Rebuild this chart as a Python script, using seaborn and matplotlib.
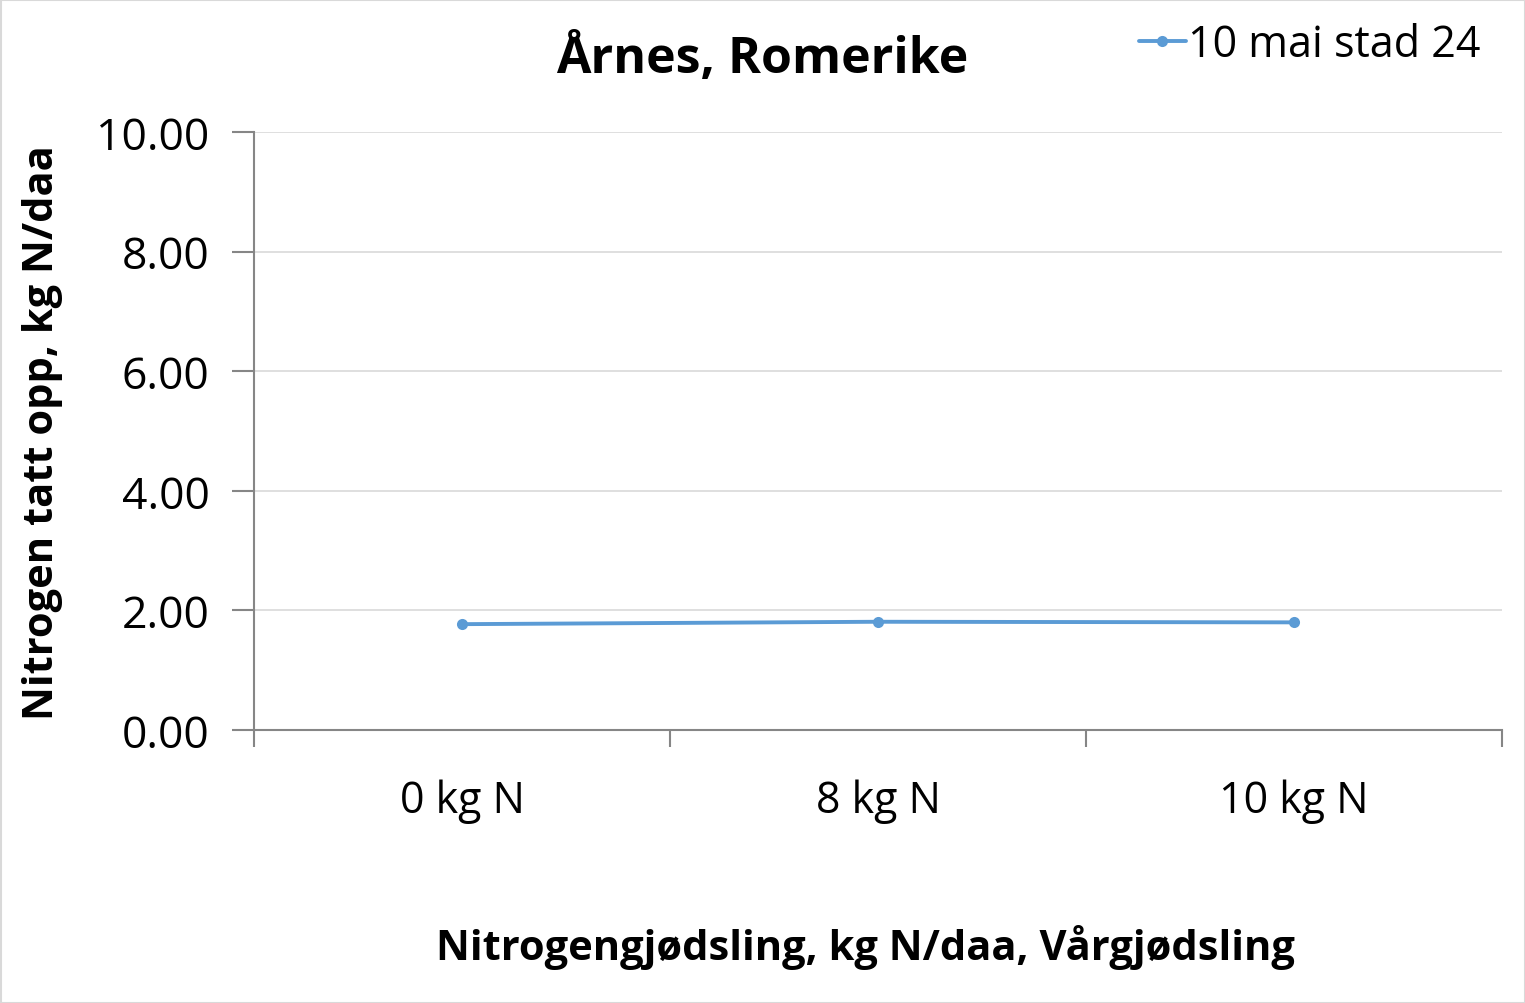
import matplotlib
matplotlib.use("Agg")
import matplotlib.pyplot as plt
import seaborn as sns
import pandas as pd
from matplotlib.patches import Rectangle

categories = ["0 kg N", "8 kg N", "10 kg N"]
values = [1.77, 1.81, 1.80]
series_name = "10 mai stad 24"
yticks = [0, 2, 4, 6, 8, 10]

sns.set_theme(style="white")
plt.rcParams['font.family'] = ['Open Sans', 'DejaVu Sans']
plt.rcParams['text.color'] = 'black'
plt.rcParams['xtick.color'] = 'black'
plt.rcParams['ytick.color'] = 'black'
plt.rcParams['axes.labelcolor'] = 'black'

fig = plt.figure(figsize=(15.25, 10.04), dpi=100)
ax = fig.add_axes([254/1525, 1-731/1004, (1502-254)/1525, (731-133)/1004])

df = pd.DataFrame({"x": range(len(categories)), "y": values, "s": series_name})
color = "#5B9BD5"
sns.lineplot(data=df, x="x", y="y", ax=ax, color=color, marker="o", markersize=8,
             linewidth=2.8, markeredgewidth=0, label=series_name)

ax.set_xlim(-0.5, len(categories) - 0.5)
ax.set_ylim(0, 10)
ax.set_yticks(yticks)
ax.set_yticklabels([f"{v:.2f}" for v in yticks], fontsize=32)
ax.set_xticks(range(len(categories)))
ax.set_xticklabels(categories, fontsize=31)
ax.set_xticks([i - 0.5 for i in range(len(categories) + 1)], minor=True)
ax.tick_params(axis="x", which="major", bottom=True, length=0, pad=35)
ax.tick_params(axis="x", which="minor", bottom=True, length=12, width=1.5, color="#868686", direction="out")
ax.tick_params(axis="y", which="major", left=True, length=16, width=1.5, color="#868686", direction="out", pad=16)
ax.yaxis.grid(True, color="#D9D9D9", linewidth=1.2)
ax.set_axisbelow(True)
for s in ["top", "right"]:
    ax.spines[s].set_visible(False)
for s in ["left", "bottom"]:
    ax.spines[s].set_color("#868686")
    ax.spines[s].set_linewidth(1.5)

ax.set_xlabel("Nitrogengjødsling, kg N/daa, Vårgjødsling", fontsize=30, fontweight="bold")
ax.xaxis.set_label_coords((865 - 254) / (1502 - 254), -(947 - 731) / (731 - 133))
ax.xaxis.label.set_va("center")
ax.set_ylabel("Nitrogen tatt opp, kg N/daa", fontsize=30, fontweight="bold")
ax.yaxis.set_label_coords(-(254 - 42) / (1502 - 254), (731 - 433) / (731 - 133))
ax.yaxis.label.set_va("center")
fig.text(762/1525, 1-60/1004, "Årnes, Romerike", fontsize=36, fontweight="bold", ha="center", va="center")

leg = ax.legend(loc="upper right", bbox_to_anchor=(1498/1525, 1-6/1004), bbox_transform=fig.transFigure,
                frameon=False, fontsize=31, handlelength=1.1, handletextpad=0.05, borderaxespad=0)

fig.patches.append(Rectangle((0.5/1525, 0.5/1004), 1-1/1525, 1-1/1004, transform=fig.transFigure,
                             fill=False, edgecolor="#D9D9D9", linewidth=1.5))

fig.savefig("out.png", dpi=100)
